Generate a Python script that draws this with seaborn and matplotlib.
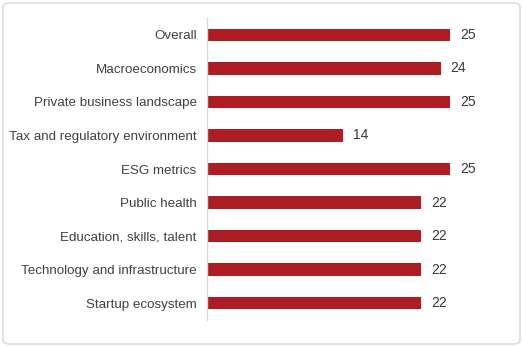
import matplotlib
matplotlib.use("Agg")
import matplotlib.pyplot as plt
import seaborn as sns
import pandas as pd
from matplotlib.patches import FancyBboxPatch

categories = ["Overall", "Macroeconomics", "Private business landscape",
              "Tax and regulatory environment", "ESG metrics", "Public health",
              "Education, skills, talent", "Technology and infrastructure",
              "Startup ecosystem"]
values = [25, 24, 25, 14, 25, 22, 22, 22, 22]

sns.set_theme(style="white")
plt.rcParams['font.family'] = ['Liberation Sans', 'DejaVu Sans']

df = pd.DataFrame({"category": categories, "value": values})

W, H = 523, 347
fig = plt.figure(figsize=(W / 100, H / 100), dpi=100)
fig.patch.set_facecolor("white")
ax = fig.add_axes([207 / W, 1 - 320 / H, (499 - 207) / W, (320 - 18) / H])

sns.barplot(data=df, x="value", y="category", orient="h", color="#AE1D23",
            saturation=1, width=0.37, linewidth=0, edgecolor="none", ax=ax)

ax.set_xlim(0, 30)
ax.set_ylim(8.5, -0.5)
ax.set_xlabel("")
ax.set_ylabel("")
ax.set_xticks([])
for s in ["top", "right", "bottom"]:
    ax.spines[s].set_visible(False)
ax.spines["left"].set_color("#d9d9d9")
ax.spines["left"].set_linewidth(1.0)
ax.tick_params(axis="y", length=0, pad=7.5, labelsize=9.6, labelcolor="#404040")

for i, v in enumerate(values):
    ax.text(v + 1.0, i, f"{v}", va="center", ha="left", fontsize=10, color="#383838")

border = FancyBboxPatch((3 / W, 3 / H), (W - 6) / W, (H - 6) / H,
                        boxstyle="round,pad=0,rounding_size=0.012",
                        transform=fig.transFigure, facecolor="none",
                        edgecolor="#dcdcdc", linewidth=1.2)
fig.patches.append(border)

fig.savefig("out.png", dpi=100)
